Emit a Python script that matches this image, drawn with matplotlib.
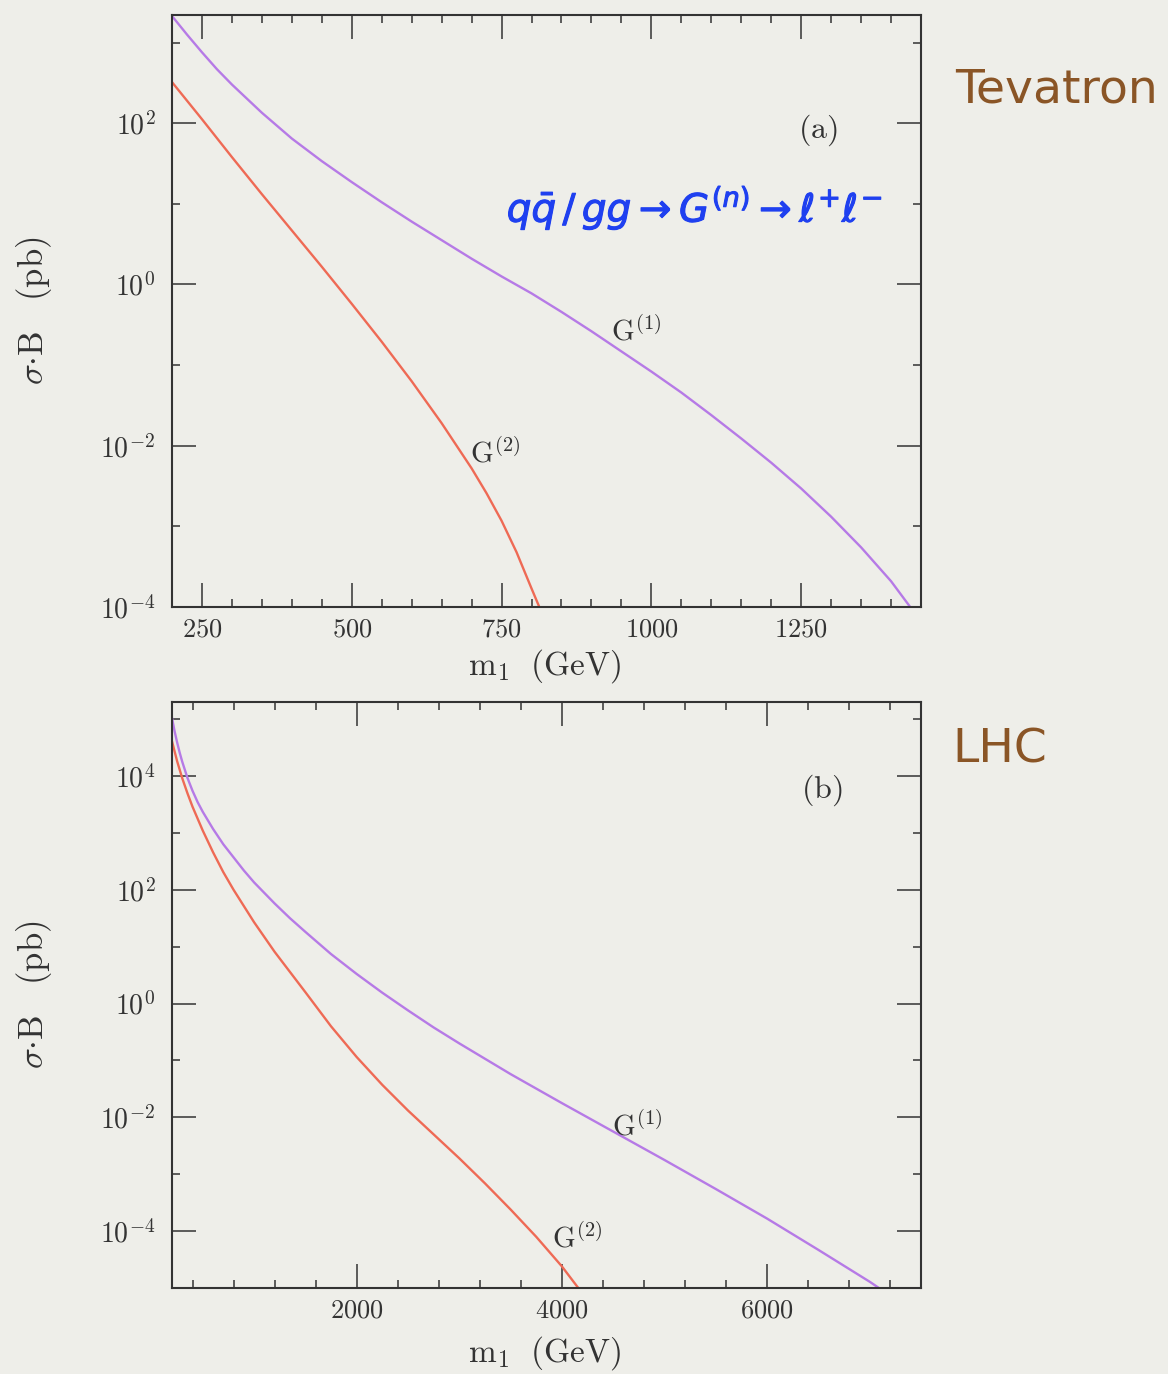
"""KK graviton Drell-Yan cross sections at the Tevatron and the LHC."""

import matplotlib

matplotlib.use("Agg")
import matplotlib.patheffects as pe
import matplotlib.pyplot as plt
import numpy as np
from matplotlib.ticker import FixedLocator, FuncFormatter, MultipleLocator, NullFormatter

plt.rcParams["mathtext.fontset"] = "cm"

# ---- data: m1 in GeV, log10(sigma*B / pb) ----
tev_m1 = [200, 225, 250, 275, 300, 350, 400, 450, 500, 550, 600, 650, 700, 750, 800,
          850, 900, 950, 1000, 1050, 1100, 1150, 1200, 1250, 1300, 1350, 1400, 1432]
tev_g1_log = [3.33, 3.10, 2.88, 2.67, 2.48, 2.13, 1.81, 1.53, 1.27, 1.02, 0.78, 0.55,
              0.32, 0.10, -0.11, -0.34, -0.58, -0.83, -1.08, -1.34, -1.62, -1.91,
              -2.21, -2.53, -2.88, -3.26, -3.68, -4.00]

tev_m2 = [200, 250, 300, 350, 400, 450, 500, 550, 600, 650, 700, 725, 750, 775, 800, 813]
tev_g2_log = [2.51, 2.05, 1.58, 1.12, 0.67, 0.22, -0.24, -0.71, -1.20, -1.72, -2.28,
              -2.59, -2.93, -3.32, -3.77, -4.00]

lhc_m1 = [200, 225, 250, 275, 300, 350, 400, 450, 500, 600, 700, 800, 900, 1000, 1200,
          1350, 1500, 1750, 2000, 2250, 2500, 2750, 3000, 3500, 4000, 4500, 5000, 5500,
          6000, 6500, 7000, 7090]
lhc_g1_log = [5.02, 4.79, 4.59, 4.41, 4.25, 3.97, 3.74, 3.54, 3.37, 3.07, 2.80, 2.57,
              2.34, 2.13, 1.76, 1.50, 1.26, 0.87, 0.52, 0.19, -0.12, -0.42, -0.70,
              -1.24, -1.75, -2.25, -2.75, -3.26, -3.78, -4.33, -4.89, -5.00]

lhc_m2 = [200, 250, 300, 350, 400, 500, 600, 700, 800, 1000, 1200, 1500, 1750, 2000,
          2250, 2500, 2750, 3000, 3250, 3500, 3750, 4000, 4160]
lhc_g2_log = [4.61, 4.26, 3.96, 3.70, 3.46, 3.04, 2.66, 2.31, 2.00, 1.43, 0.91, 0.20,
              -0.40, -0.94, -1.43, -1.88, -2.30, -2.72, -3.16, -3.62, -4.10, -4.62, -5.00]

PAPER = "#eeeee9"
INK = "#333333"
PURPLE = "#b67ae6"
RED = "#ee6a55"
BROWN = "#8a5526"
BLUE = "#1f40f0"
W, H = 1168, 1374


def _pow10(v, pos):
    return r"$10^{%d}$" % round(np.log10(v))


def style_axes(ax, ymajor, yminor):
    ax.set_yscale("log")
    ax.set_facecolor(PAPER)
    for sp in ax.spines.values():
        sp.set_linewidth(1.5)
        sp.set_color(INK)
    ax.yaxis.set_major_locator(FixedLocator(ymajor))
    ax.yaxis.set_minor_locator(FixedLocator(yminor))
    ax.yaxis.set_major_formatter(FuncFormatter(_pow10))
    ax.yaxis.set_minor_formatter(NullFormatter())
    ax.xaxis.set_major_formatter(FuncFormatter(lambda v, p: r"$%d$" % v))
    ax.tick_params(which="both", direction="in", top=True, right=True, colors=INK)
    ax.tick_params(which="major", length=17, width=1.1)
    ax.tick_params(which="minor", length=6, width=1.1)
    ax.tick_params(axis="x", pad=7, labelsize=19)
    ax.tick_params(axis="y", pad=12, labelsize=20)
    ax.set_ylabel(r"$\sigma{\cdot}\mathrm{B}\ \ \ (\mathrm{pb})$", fontsize=25, color=INK)
    ax.set_xlabel(r"$\mathrm{m}_1\ \ (\mathrm{GeV})$", fontsize=24, color=INK)
    ax.yaxis.set_label_coords(-0.158, 0.5)


def curve(ax, m, logs, color):
    ax.plot(m, np.power(10.0, logs), color=color, lw=1.7, solid_joinstyle="round")


fig = plt.figure(figsize=(W / 100, H / 100), dpi=100, facecolor=PAPER)

# ---- (a) Tevatron ----
ax1 = fig.add_axes([172 / W, 1 - 607 / H, 749 / W, 592 / H])
curve(ax1, tev_m1, tev_g1_log, PURPLE)
curve(ax1, tev_m2, tev_g2_log, RED)
style_axes(ax1, [1e-4, 1e-2, 1e0, 1e2], [1e-3, 1e-1, 1e1, 1e3])
ax1.set_xlim(200, 1450)
ax1.set_ylim(1e-4, 2.2e3)
ax1.xaxis.set_major_locator(MultipleLocator(250))
ax1.xaxis.set_minor_locator(MultipleLocator(50))
ax1.xaxis.set_label_coords(0.498, -0.068)
ax1.text(932, 10 ** -0.70, r"$\mathrm{G}^{(1)}$", fontsize=21, color=INK)
ax1.text(698, 10 ** -2.21, r"$\mathrm{G}^{(2)}$", fontsize=21, color=INK)
ax1.text(0.862, 0.806, r"$(\mathrm{a})$", transform=ax1.transAxes, fontsize=23,
         color=INK, ha="center", va="center")
ax1.text(0.698, 0.674, r"$q\bar{q}\,/\,gg \rightarrow G^{(n)} \rightarrow \ell^{+}\ell^{-}$",
         transform=ax1.transAxes, fontsize=28, color=BLUE,
         ha="center", va="center", math_fontfamily="dejavusans",
         path_effects=[pe.withStroke(linewidth=0.8, foreground=BLUE)])

# ---- (b) LHC ----
ax2 = fig.add_axes([172 / W, 1 - 1288 / H, 749 / W, 586 / H])
curve(ax2, lhc_m1, lhc_g1_log, PURPLE)
curve(ax2, lhc_m2, lhc_g2_log, RED)
style_axes(ax2, [1e-4, 1e-2, 1e0, 1e2, 1e4], [1e-3, 1e-1, 1e1, 1e3, 1e5])
ax2.set_xlim(200, 7500)
ax2.set_ylim(1e-5, 2e5)
ax2.xaxis.set_major_locator(MultipleLocator(2000))
ax2.xaxis.set_minor_locator(MultipleLocator(400))
ax2.xaxis.set_label_coords(0.498, -0.078)
ax2.text(4493, 10 ** -2.32, r"$\mathrm{G}^{(1)}$", fontsize=21, color=INK)
ax2.text(3900, 10 ** -4.28, r"$\mathrm{G}^{(2)}$", fontsize=21, color=INK)
ax2.text(0.867, 0.85, r"$(\mathrm{b})$", transform=ax2.transAxes, fontsize=23,
         color=INK, ha="center", va="center")

# handwritten notes beside the panels
fig.text(955 / W, 1 - 90 / H, "Tevatron", fontsize=34, color=BROWN, va="center")
fig.text(952 / W, 1 - 750 / H, "LHC", fontsize=34, color=BROWN, va="center")

fig.savefig("out.png", dpi=100, facecolor=PAPER)
